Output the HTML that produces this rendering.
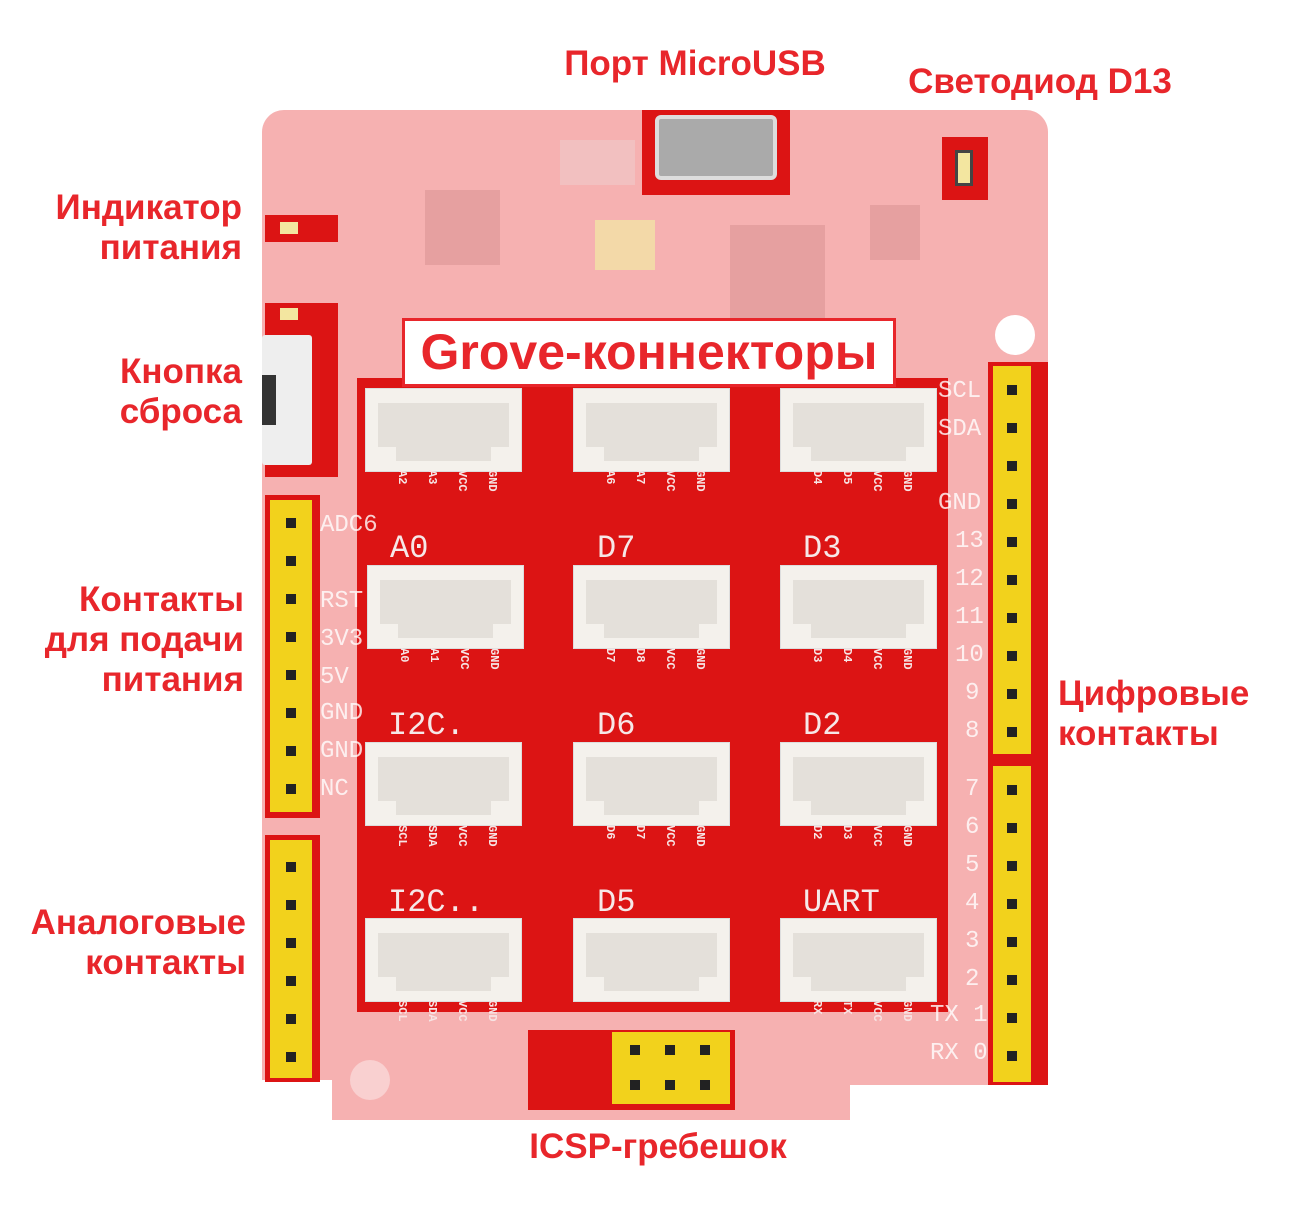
<!DOCTYPE html>
<html><head><meta charset="utf-8"><style>
body{margin:0;width:1300px;height:1214px;background:#fff;position:relative;overflow:hidden;font-family:"Liberation Sans",sans-serif}
div{position:absolute;box-sizing:border-box}
.lab{color:#e8262b;font-weight:bold;font-size:35px;line-height:40px;text-align:right}
.red{background:#dc1414}
.con{width:157px;height:84px;background:#f4f1ec;border:1px solid #ddd}
.con .in{left:12px;top:14px;width:131px;height:44px;background:#e4e0da}
.con .lip{left:30px;top:58px;width:95px;height:14px;background:#e4e0da}
.ttl{color:#f6e8e8;font-family:"Liberation Mono",monospace;font-size:32px}
.pl{color:#f7e4e4;font-family:"Liberation Mono",monospace;font-size:12px;writing-mode:vertical-rl;font-weight:bold}
.hdr{background:#f2d21c}
.hole{width:10px;height:10px;background:#222}
.bl{color:#fff;font-family:"Liberation Mono",monospace;font-size:24px;opacity:.8}
</style></head><body>
<div style="left:262px;top:110px;width:786px;height:1010px;background:#f6b1b1;border-radius:22px"></div>
<div style="left:262px;top:1080px;width:70px;height:50px;background:#fff"></div>
<div style="left:850px;top:1085px;width:200px;height:40px;background:#fff"></div>
<div style="left:995px;top:315px;width:40px;height:40px;border-radius:20px;background:#fff"></div>
<div style="left:350px;top:1060px;width:40px;height:40px;border-radius:20px;background:#f9d0d0"></div>
<div style="left:425px;top:190px;width:75px;height:75px;background:#e6a0a0"></div>
<div style="left:730px;top:225px;width:95px;height:100px;background:#e6a0a0"></div>
<div style="left:870px;top:205px;width:50px;height:55px;background:#e6a0a0"></div>
<div style="left:595px;top:220px;width:60px;height:50px;background:#f3d9a8"></div>
<div style="left:560px;top:140px;width:75px;height:45px;background:#f2c0c0"></div>
<div class="red" style="left:357px;top:378px;width:591px;height:634px"></div>
<div class="red" style="left:988px;top:362px;width:60px;height:723px"></div>
<div class="red" style="left:265px;top:495px;width:55px;height:323px"></div>
<div class="red" style="left:265px;top:835px;width:55px;height:247px"></div>
<div class="red" style="left:265px;top:303px;width:73px;height:174px"></div>
<div style="left:262px;top:335px;width:50px;height:130px;background:#eee;border-radius:3px"></div>
<div style="left:262px;top:375px;width:14px;height:50px;background:#333"></div>
<div class="red" style="left:265px;top:215px;width:73px;height:27px"></div>
<div style="left:280px;top:222px;width:18px;height:12px;background:#f3e6a0"></div>
<div style="left:280px;top:308px;width:18px;height:12px;background:#f3e6a0"></div>
<div class="red" style="left:642px;top:110px;width:148px;height:85px"></div>
<div style="left:655px;top:115px;width:122px;height:65px;background:#aaa;border-radius:6px;border:4px solid #ddd"></div>
<div class="red" style="left:942px;top:137px;width:46px;height:63px"></div>
<div style="left:955px;top:150px;width:18px;height:36px;background:#f3e6a0;border:3px solid #444"></div>
<div class="red" style="left:528px;top:1030px;width:207px;height:80px"></div>
<div class="hdr" style="left:612px;top:1032px;width:118px;height:72px"></div>
<div class="hdr" style="left:993px;top:366px;width:38px;height:388px"></div>
<div class="hdr" style="left:993px;top:766px;width:38px;height:316px"></div>
<div class="hdr" style="left:270px;top:500px;width:42px;height:312px"></div>
<div class="hdr" style="left:270px;top:840px;width:42px;height:238px"></div>
<div class="hole" style="left:1007px;top:385px"></div><div class="hole" style="left:1007px;top:423px"></div><div class="hole" style="left:1007px;top:461px"></div><div class="hole" style="left:1007px;top:499px"></div><div class="hole" style="left:1007px;top:537px"></div><div class="hole" style="left:1007px;top:575px"></div><div class="hole" style="left:1007px;top:613px"></div><div class="hole" style="left:1007px;top:651px"></div><div class="hole" style="left:1007px;top:689px"></div><div class="hole" style="left:1007px;top:727px"></div>
<div class="hole" style="left:1007px;top:785px"></div><div class="hole" style="left:1007px;top:823px"></div><div class="hole" style="left:1007px;top:861px"></div><div class="hole" style="left:1007px;top:899px"></div><div class="hole" style="left:1007px;top:937px"></div><div class="hole" style="left:1007px;top:975px"></div><div class="hole" style="left:1007px;top:1013px"></div><div class="hole" style="left:1007px;top:1051px"></div>
<div class="hole" style="left:286px;top:518px"></div><div class="hole" style="left:286px;top:556px"></div><div class="hole" style="left:286px;top:594px"></div><div class="hole" style="left:286px;top:632px"></div><div class="hole" style="left:286px;top:670px"></div><div class="hole" style="left:286px;top:708px"></div><div class="hole" style="left:286px;top:746px"></div><div class="hole" style="left:286px;top:784px"></div>
<div class="hole" style="left:286px;top:862px"></div><div class="hole" style="left:286px;top:900px"></div><div class="hole" style="left:286px;top:938px"></div><div class="hole" style="left:286px;top:976px"></div><div class="hole" style="left:286px;top:1014px"></div><div class="hole" style="left:286px;top:1052px"></div>
<div class="hole" style="left:630px;top:1045px"></div><div class="hole" style="left:665px;top:1045px"></div><div class="hole" style="left:700px;top:1045px"></div>
<div class="hole" style="left:630px;top:1080px"></div><div class="hole" style="left:665px;top:1080px"></div><div class="hole" style="left:700px;top:1080px"></div>
<div class="bl" style="left:938px;top:378px">SCL</div><div class="bl" style="left:938px;top:416px">SDA</div><div class="bl" style="left:938px;top:490px">GND</div>
<div class="bl" style="left:955px;top:528px">13</div><div class="bl" style="left:955px;top:566px">12</div><div class="bl" style="left:955px;top:604px">11</div><div class="bl" style="left:955px;top:642px">10</div><div class="bl" style="left:965px;top:680px">9</div><div class="bl" style="left:965px;top:718px">8</div>
<div class="bl" style="left:965px;top:776px">7</div><div class="bl" style="left:965px;top:814px">6</div><div class="bl" style="left:965px;top:852px">5</div><div class="bl" style="left:965px;top:890px">4</div><div class="bl" style="left:965px;top:928px">3</div><div class="bl" style="left:965px;top:966px">2</div><div class="bl" style="left:930px;top:1002px">TX 1</div><div class="bl" style="left:930px;top:1040px">RX 0</div>
<div class="bl" style="left:320px;top:512px">ADC6</div><div class="bl" style="left:320px;top:588px">RST</div><div class="bl" style="left:320px;top:626px">3V3</div><div class="bl" style="left:320px;top:664px">5V</div><div class="bl" style="left:320px;top:700px">GND</div><div class="bl" style="left:320px;top:738px">GND</div><div class="bl" style="left:320px;top:776px">NC</div>
<div class="con" style="left:365px;top:388px"><div class="in"></div><div class="lip"></div></div>
<div class="con" style="left:573px;top:388px"><div class="in"></div><div class="lip"></div></div>
<div class="con" style="left:780px;top:388px"><div class="in"></div><div class="lip"></div></div>
<div class="con" style="left:367px;top:565px"><div class="in"></div><div class="lip"></div></div>
<div class="con" style="left:573px;top:565px"><div class="in"></div><div class="lip"></div></div>
<div class="con" style="left:780px;top:565px"><div class="in"></div><div class="lip"></div></div>
<div class="con" style="left:365px;top:742px"><div class="in"></div><div class="lip"></div></div>
<div class="con" style="left:573px;top:742px"><div class="in"></div><div class="lip"></div></div>
<div class="con" style="left:780px;top:742px"><div class="in"></div><div class="lip"></div></div>
<div class="con" style="left:365px;top:918px"><div class="in"></div><div class="lip"></div></div>
<div class="con" style="left:573px;top:918px"><div class="in"></div><div class="lip"></div></div>
<div class="con" style="left:780px;top:918px"><div class="in"></div><div class="lip"></div></div>
<div class="pl" style="left:395px;top:470px">A2</div><div class="pl" style="left:425px;top:470px">A3</div><div class="pl" style="left:455px;top:470px">VCC</div><div class="pl" style="left:485px;top:470px">GND</div>
<div class="pl" style="left:603px;top:470px">A6</div><div class="pl" style="left:633px;top:470px">A7</div><div class="pl" style="left:663px;top:470px">VCC</div><div class="pl" style="left:693px;top:470px">GND</div>
<div class="pl" style="left:810px;top:470px">D4</div><div class="pl" style="left:840px;top:470px">D5</div><div class="pl" style="left:870px;top:470px">VCC</div><div class="pl" style="left:900px;top:470px">GND</div>
<div class="pl" style="left:397px;top:648px">A0</div><div class="pl" style="left:427px;top:648px">A1</div><div class="pl" style="left:457px;top:648px">VCC</div><div class="pl" style="left:487px;top:648px">GND</div>
<div class="pl" style="left:603px;top:648px">D7</div><div class="pl" style="left:633px;top:648px">D8</div><div class="pl" style="left:663px;top:648px">VCC</div><div class="pl" style="left:693px;top:648px">GND</div>
<div class="pl" style="left:810px;top:648px">D3</div><div class="pl" style="left:840px;top:648px">D4</div><div class="pl" style="left:870px;top:648px">VCC</div><div class="pl" style="left:900px;top:648px">GND</div>
<div class="pl" style="left:395px;top:825px">SCL</div><div class="pl" style="left:425px;top:825px">SDA</div><div class="pl" style="left:455px;top:825px">VCC</div><div class="pl" style="left:485px;top:825px">GND</div>
<div class="pl" style="left:603px;top:825px">D6</div><div class="pl" style="left:633px;top:825px">D7</div><div class="pl" style="left:663px;top:825px">VCC</div><div class="pl" style="left:693px;top:825px">GND</div>
<div class="pl" style="left:810px;top:825px">D2</div><div class="pl" style="left:840px;top:825px">D3</div><div class="pl" style="left:870px;top:825px">VCC</div><div class="pl" style="left:900px;top:825px">GND</div>
<div class="pl" style="left:395px;top:1000px">SCL</div><div class="pl" style="left:425px;top:1000px">SDA</div><div class="pl" style="left:455px;top:1000px">VCC</div><div class="pl" style="left:485px;top:1000px">GND</div>
<div class="pl" style="left:810px;top:1000px">RX</div><div class="pl" style="left:840px;top:1000px">TX</div><div class="pl" style="left:870px;top:1000px">VCC</div><div class="pl" style="left:900px;top:1000px">GND</div>
<div class="ttl" style="left:390px;top:530px">A0</div><div class="ttl" style="left:597px;top:530px">D7</div><div class="ttl" style="left:803px;top:530px">D3</div>
<div class="ttl" style="left:388px;top:707px">I2C.</div><div class="ttl" style="left:597px;top:707px">D6</div><div class="ttl" style="left:803px;top:707px">D2</div>
<div class="ttl" style="left:388px;top:884px">I2C..</div><div class="ttl" style="left:597px;top:884px">D5</div><div class="ttl" style="left:803px;top:884px">UART</div>
<div style="left:402px;top:318px;width:494px;height:69px;background:#fff;border:3px solid #e8262b;color:#e8262b;font-weight:bold;font-size:50px;line-height:62px;text-align:center;white-space:nowrap">Grove-коннекторы</div>
<div class="lab" style="left:530px;top:44px;width:330px;text-align:center">Порт MicroUSB</div>
<div class="lab" style="left:870px;top:62px;width:340px;text-align:center">Светодиод D13</div>
<div class="lab" style="left:0;top:188px;width:242px">Индикатор<br>питания</div>
<div class="lab" style="left:0;top:352px;width:242px">Кнопка<br>сброса</div>
<div class="lab" style="left:0;top:580px;width:244px">Контакты<br>для подачи<br>питания</div>
<div class="lab" style="left:0;top:903px;width:246px">Аналоговые<br>контакты</div>
<div class="lab" style="left:1058px;top:674px;width:240px;text-align:left">Цифровые<br>контакты</div>
<div class="lab" style="left:490px;top:1127px;width:336px;text-align:center">ICSP-гребешок</div>
</body></html>
